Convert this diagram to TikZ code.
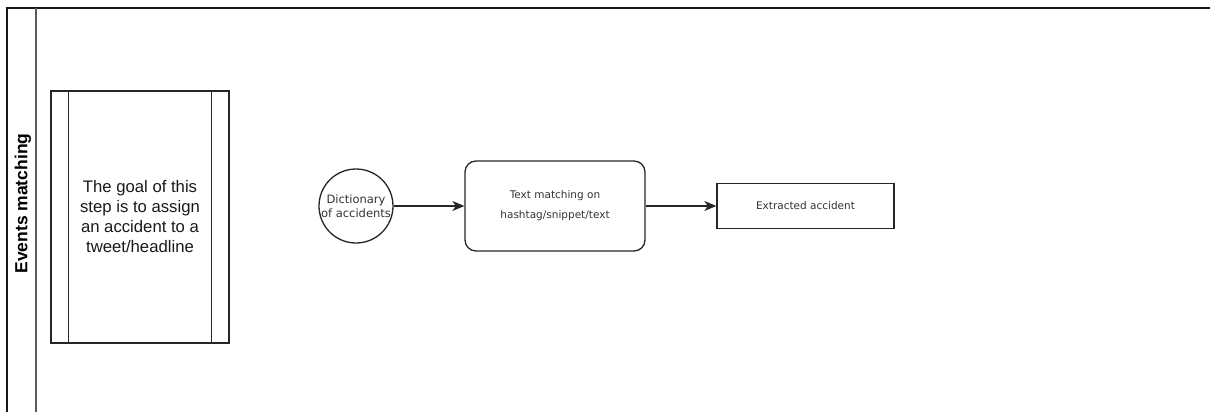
\documentclass[tikz,border=0pt]{standalone}
\usepackage{fontspec}
\setmainfont{Liberation Sans}
\newfontfamily\smallsans{DejaVu Sans}
\usetikzlibrary{arrows.meta}

\tikzset{
  edge/.style={draw=black!85, line width=1.3pt},
  flow/.style={edge, -{Stealth[length=12pt,width=10pt,inset=3.5pt]}},
  labeltext/.style={font=\smallsans\fontsize{10.5}{20}\selectfont, text=black!80, align=center},
  procbox/.style={edge, rectangle, minimum width=178pt, minimum height=252pt, inner sep=0pt,
    font=\fontsize{16.7}{20}\selectfont, text=black!90, align=center},
  dictnode/.style={edge, circle, minimum size=74pt, inner sep=0pt,
    font=\smallsans\fontsize{11.5}{13.5}\selectfont, text=black!80, align=center},
  taskbox/.style={edge, rectangle, rounded corners=11pt, minimum width=180pt, minimum height=90pt,
    inner sep=0pt, labeltext},
  resultbox/.style={edge, rectangle, minimum width=177pt, minimum height=45pt, inner sep=0pt, labeltext},
}

\begin{document}
\begin{tikzpicture}[x=1pt, y=-1pt]
\useasboundingbox (0,0) rectangle (1210,412);

% pool frame and lane divider
\draw[line width=2pt, black!90] (7,412) -- (7,8) -- (1210,8);
\draw[line width=1.2pt, black!65] (36,8) -- (36,412);

% lane title
\node[rotate=90, font=\bfseries\fontsize{17.5}{20}\selectfont] (lane) at (23,203.5) {Events matching};

% predefined-process description
\node[procbox] (goal) at (140,217)
  {The goal of this\\step is to assign\\an accident to a\\tweet/headline};
\draw[edge] ([xshift=18pt]goal.north west) -- ([xshift=18pt]goal.south west);
\draw[edge] ([xshift=-18pt]goal.north east) -- ([xshift=-18pt]goal.south east);

% flow
\node[dictnode] (dict) at (356,206) {Dictionary\\of accidents};
\node[taskbox] (match) at (555,206) {Text matching on\\hashtag/snippet/text};
\node[resultbox] (out) at (805.5,206) {Extracted accident};

\draw[flow] (dict) -- (match);
\draw[flow] (match) -- (out);
\end{tikzpicture}
\end{document}
